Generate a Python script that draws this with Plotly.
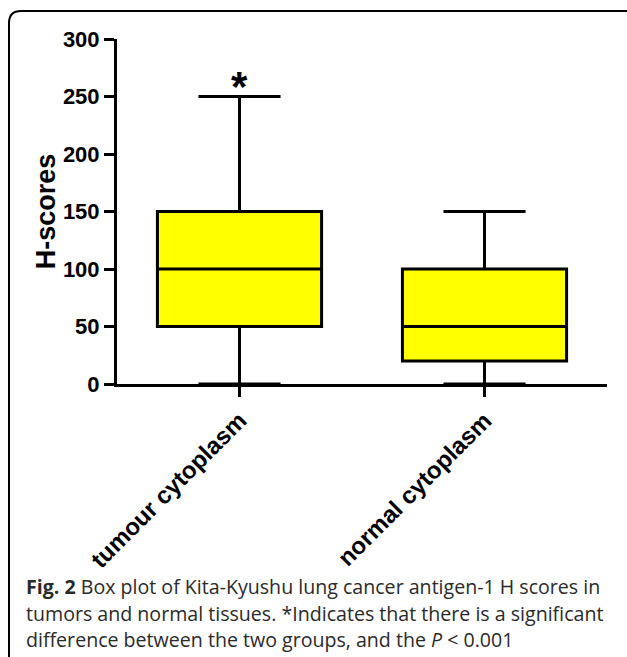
import plotly.graph_objects as go

categories = ["tumour cytoplasm", "normal cytoplasm"]
lower_whisker = [0, 0]
q1_values = [50, 20]
median_values = [100, 50]
q3_values = [150, 100]
upper_whisker = [250, 150]
y_ticks = [0, 50, 100, 150, 200, 250, 300]
caption_lines = [
    "<b>Fig. 2</b> Box plot of Kita-Kyushu lung cancer antigen-1 H scores in",
    "tumors and normal tissues. *Indicates that there is a significant",
    "difference between the two groups, and the <i>P</i> &lt; 0.001",
]

W, H = 627, 657
ML, MR, MT, MB = 117, 20, 39, 273
PW, PH = W - ML - MR, H - MT - MB


def px(x):
    return (x - ML) / PW


def py(y):
    return (H - MB - y) / PH


fig = go.Figure()
fig.add_trace(go.Box(
    x=categories,
    q1=q1_values, median=median_values, q3=q3_values,
    lowerfence=lower_whisker, upperfence=upper_whisker,
    fillcolor="#FFFF00",
    line=dict(color="black", width=3),
    width=0.67,
    whiskerwidth=0.5,
    boxpoints=False,
    showlegend=False,
    hoverinfo="skip",
))

fig.add_annotation(
    x=categories[0], y=upper_whisker[0], xref="x", yref="y",
    text="<b>*</b>", showarrow=False, yanchor="bottom", yshift=-15,
    font=dict(family="Liberation Sans", size=42, color="black"),
)

for i, line in enumerate(caption_lines):
    fig.add_annotation(
        x=px(24), y=py(571 + i * 26.5), xref="paper", yref="paper",
        xanchor="left", yanchor="top", align="left", showarrow=False,
        text=line, font=dict(family="Open Sans", size=19.6, color="#2a2a2a"),
    )

# frame
r = 12
path = (f"M {px(9)},{py(660)} L {px(9)},{py(11 + r)} "
        f"Q {px(9)},{py(11)} {px(9 + r)},{py(11)} L {px(630)},{py(11)}")
fig.add_shape(type="path", path=path, xref="paper", yref="paper",
              line=dict(color="black", width=2))

fig.update_layout(
    width=W, height=H,
    margin=dict(l=ML, r=MR, t=MT, b=MB, autoexpand=False),
    plot_bgcolor="white", paper_bgcolor="white",
    font=dict(family="Liberation Sans", color="black"),
)
fig.update_xaxes(
    range=[-0.5, 1.5], showline=True, linewidth=3, linecolor="black",
    ticks="outside", ticklen=10, tickwidth=3, tickcolor="black",
    tickangle=-45, showgrid=False, zeroline=False,
    tickfont=dict(family="Liberation Sans", size=24, weight="bold"),
)
fig.update_yaxes(
    range=[0, 300], tickvals=y_ticks, showline=True, linewidth=3,
    linecolor="black", ticks="outside", ticklen=10, tickwidth=3,
    tickcolor="black", showgrid=False, zeroline=False,
    tickfont=dict(family="Liberation Sans", size=22, weight="bold"),
    title=dict(text="H-scores", standoff=0,
               font=dict(family="Liberation Sans", size=27, weight="bold")),
)

fig.write_html("out.html", config={"displayModeBar": False},
               post_script="document.body.style.margin='0';")
